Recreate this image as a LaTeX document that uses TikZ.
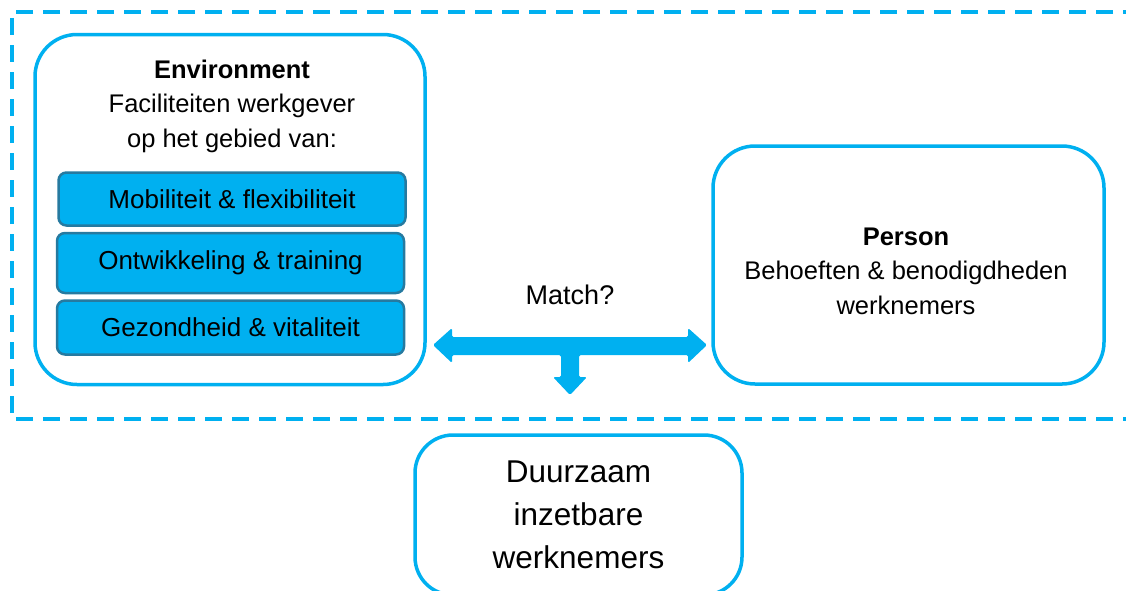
\documentclass[tikz,border=0pt]{standalone}
\usepackage{fontspec}
\setmainfont{Liberation Sans}
\usepackage{tikz}
\definecolor{myblue}{RGB}{0,176,240}
\definecolor{myedge}{RGB}{38,122,160}
\usetikzlibrary{calc,positioning}
\tikzstyle{bigbox}=[draw=myblue,line width=3.5pt,rounded corners=42pt,fill=white,align=center,font=\fontsize{25.5}{34.5}\selectfont]
\tikzstyle{boxtext}=[align=center,font=\fontsize{25.5}{34.5}\selectfont]
\tikzstyle{itembox}=[draw=myedge,fill=myblue,line width=2.5pt,rounded corners=8pt,minimum width=347pt,font=\fontsize{26}{28}\selectfont]
\tikzstyle{frame}=[draw=myblue,line width=3.8pt,dash pattern=on 17pt off 10pt]

\begin{document}
\begin{tikzpicture}[x=1pt,y=-1pt]
\useasboundingbox (0,0) rectangle (1126,590);
\clip (0,0) rectangle (1126,590);
\draw[frame] (1140,12) -- (12,12) -- (12,419) -- (1140,419);
\node[bigbox,minimum width=390pt,minimum height=350pt] (env) at (230,209.5) {};
\node[boxtext] (envtext) at (232,106) {\textbf{Environment}\\Faciliteiten werkgever\\op het gebied van:};
\node[itembox,minimum height=53pt] (mob) at (232,199) {Mobiliteit \& flexibiliteit};
\node[itembox,minimum height=60pt,below=5pt of mob.south,anchor=north,xshift=-1.5pt] (ontw) {Ontwikkeling \& training};
\node[itembox,minimum height=54pt,below=5pt of ontw.south,anchor=north] (gez) {Gezondheid \& vitaliteit};
\node[bigbox,minimum width=391pt,minimum height=238pt] (pers) at (908.5,265) {};
\node[boxtext] (perstext) at (906,271) {\textbf{Person}\\Behoeften \& benodigdheden\\werknemers};
\node[bigbox,rounded corners=38pt,minimum width=327pt,minimum height=160pt,font=\fontsize{31.5}{43}\selectfont] (duur) at (578.5,515) {Duurzaam\\inzetbare\\werknemers};
\node[font=\fontsize{27}{30}\selectfont] (match) at (570,295) {Match?};
\coordinate (L) at (433,345);
\coordinate (R) at (707,345);
\coordinate (D) at (570,395);
\fill[myblue,rounded corners=1.5pt] (L) -- ($(L)+(19,-17)$) -- ($(L)+(19,-8)$) -- ($(R)+(-19,-8)$) -- ($(R)+(-19,-17)$) -- (R)
  -- ($(R)+(-19,18)$) -- ($(R)+(-19,10)$) -- ($(D)+(9,-40)$) -- ($(D)+(9,-18)$) -- ($(D)+(17,-18)$) -- (D)
  -- ($(D)+(-17,-18)$) -- ($(D)+(-9,-18)$) -- ($(D)+(-9,-40)$) -- ($(L)+(19,10)$) -- ($(L)+(19,18)$) -- cycle;
\end{tikzpicture}
\end{document}
